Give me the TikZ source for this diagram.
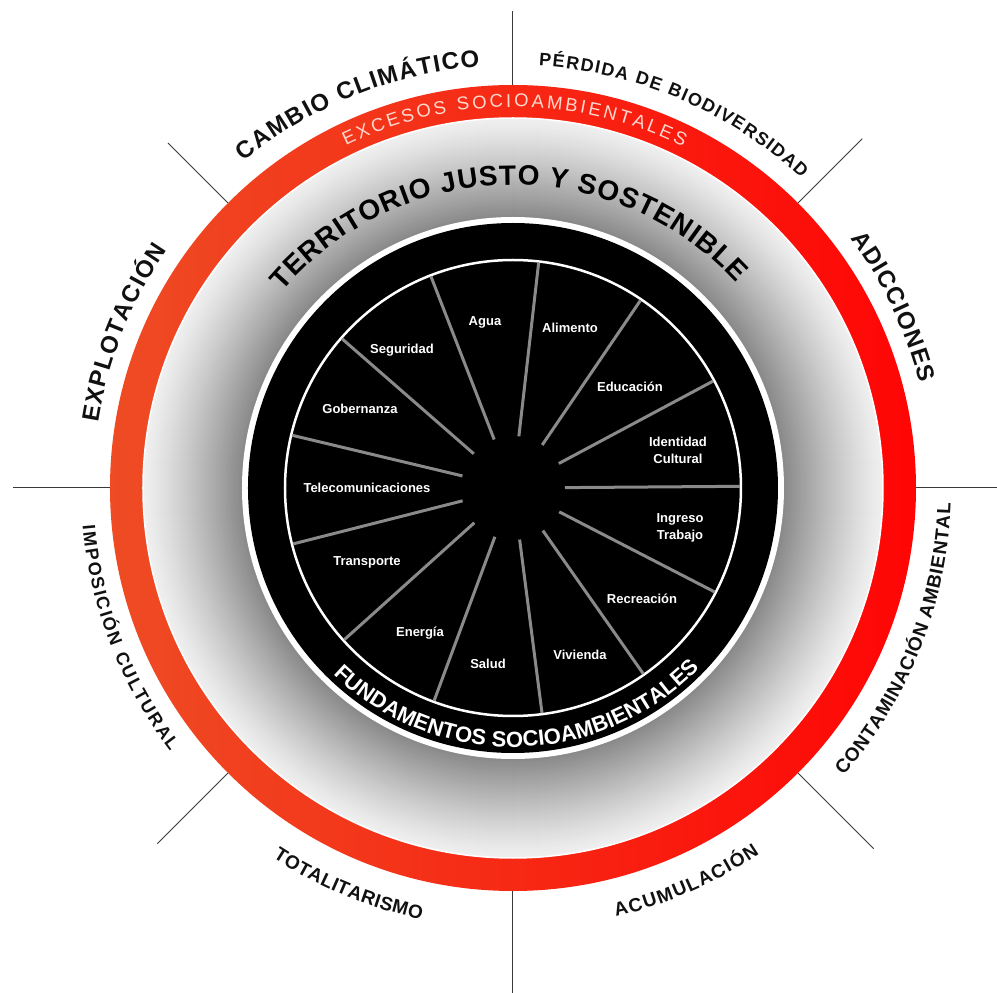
\documentclass[tikz,border=0pt]{standalone}
\usepackage{fontspec}
\setmainfont{Liberation Sans}
\usetikzlibrary{decorations.text}
\definecolor{redL}{HTML}{EE4C24}
\definecolor{redR}{HTML}{FF0505}
\definecolor{linegray}{HTML}{3A3A3A}
\definecolor{spokegray}{HTML}{8A8A8A}
\definecolor{exctext}{HTML}{FFD8CE}
\definecolor{outtext}{HTML}{111111}
\tikzset{
  sepline/.style={draw=linegray, line width=1pt},
  spoke/.style={draw=spokegray, line width=3pt},
  sector/.style={text=white, font=\fontsize{13}{17}\selectfont\bfseries, align=center, inner sep=0pt},
}
% #1 radius (pt), #2 start angle, #3 end angle, #4 font, #5 colour, #6 text
\newcommand{\arclabel}[6]{%
  \path[decorate, decoration={text along path, text align=fit to path,
        text color=#5, text={|#4|#6}}]
    (#2:#1pt) arc[start angle=#2, end angle=#3, radius=#1pt];
}
\begin{document}
\begin{tikzpicture}
\useasboundingbox[fill=white] (-513pt,-505pt) rectangle (484pt,488pt);
\coordinate (c) at (0,0);
% separator lines
\foreach \a/\r in {0/484, 45/494, 90/477, 135/488, 180/500, 225/503, 270/505, 315/510}{
  \draw[sepline] (\a:403pt) -- (\a:\r pt);
}
% red ring
\shade[left color=redL, right color=redR, even odd rule] (c) circle (403pt) (c) circle (370pt);
% gray gradient ring
\foreach \i in {0,...,98}{
  \pgfmathsetmacro\rr{370-\i}
  \pgfmathsetmacro\pp{94-40*(\i/98)^1.2}
  \fill[white!\pp!black] (c) circle (\rr pt);
}
\draw[white, line width=1.5pt] (c) circle (370pt);
% white ring and black disc
\fill[white] (c) circle (271pt);
\fill[black] (c) circle (265pt);
\draw[white, line width=2.5pt] (c) circle (228pt);
% spokes
\foreach \k in {0,...,12}{
  \pgfmathsetmacro\ang{83.5-27.6923*\k}
  \draw[spoke] (\ang:52pt) -- (\ang:227pt);
}
% sector labels
\node[sector] (agua) at (-28pt,166pt) {Agua};
\node[sector] (alimento) at (57pt,160pt) {Alimento};
\node[sector] (educacion) at (117pt,101pt) {Educación};
\node[sector] (identidad) at (165pt,38pt) {Identidad\\Cultural};
\node[sector] (ingreso) at (167pt,-40pt) {Ingreso\\Trabajo};
\node[sector] (recreacion) at (129pt,-111pt) {Recreación};
\node[sector] (vivienda) at (67pt,-167pt) {Vivienda};
\node[sector] (salud) at (-25pt,-176pt) {Salud};
\node[sector] (energia) at (-93pt,-145pt) {Energía};
\node[sector] (transporte) at (-146pt,-74pt) {Transporte};
\node[sector] (telecom) at (-146pt,0pt) {Telecomunicaciones};
\node[sector] (gobernanza) at (-153pt,79pt) {Gobernanza};
\node[sector] (seguridad) at (-111pt,138pt) {Seguridad};
% ring texts
\arclabel{381}{116}{63.5}{\fontsize{18.5}{18.5}\selectfont}{exctext}{EXCESOS SOCIOAMBIENTALES}
\arclabel{303}{139.5}{42.5}{\fontsize{28}{28}\selectfont\bfseries}{black}{TERRITORIO JUSTO Y SOSTENIBLE}
\arclabel{259}{226}{315.5}{\fontsize{22}{22}\selectfont\bfseries}{white}{FUNDAMENTOS SOCIOAMBIENTALES}
% outer labels
\arclabel{423}{129.5}{94.5}{\fontsize{24}{24}\selectfont\bfseries}{outtext}{CAMBIO CLIMÁTICO}
\arclabel{423}{86.5}{47}{\fontsize{18}{18}\selectfont\bfseries}{outtext}{PÉRDIDA DE BIODIVERSIDAD}
\arclabel{420}{36.5}{14.5}{\fontsize{24}{24}\selectfont\bfseries}{outtext}{ADICCIONES}
\arclabel{420}{171}{145.5}{\fontsize{24}{24}\selectfont\bfseries}{outtext}{EXPLOTACIÓN}
\arclabel{432}{185}{217.5}{\fontsize{18}{18}\selectfont\bfseries}{outtext}{IMPOSICIÓN CULTURAL}
\arclabel{441}{237}{258}{\fontsize{19}{19}\selectfont\bfseries}{outtext}{TOTALITARISMO}
\arclabel{441}{283.5}{304}{\fontsize{19}{19}\selectfont\bfseries}{outtext}{ACUMULACIÓN}
\arclabel{438}{319}{358}{\fontsize{19}{19}\selectfont\bfseries}{outtext}{CONTAMINACIÓN AMBIENTAL}
\end{tikzpicture}
\end{document}
